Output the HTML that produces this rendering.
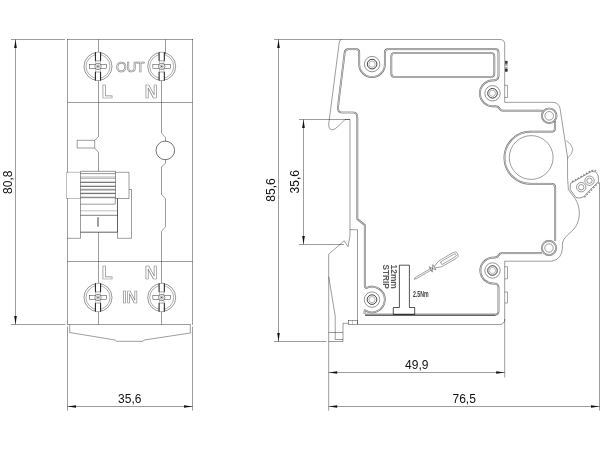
<!DOCTYPE html>
<html><head><meta charset="utf-8"><title>Dimension drawing</title>
<style>
html,body{margin:0;padding:0;background:#fff;}
svg{display:block;will-change:transform;font-family:"Liberation Sans",sans-serif;}
</style></head>
<body>
<svg width="600" height="450" viewBox="0 0 600 450">
<rect width="600" height="450" fill="#fff"/>
<line x1="11" y1="39.5" x2="65" y2="39.5" stroke="#000" stroke-width="0.388"/>
<line x1="11" y1="324.5" x2="65.5" y2="324.5" stroke="#000" stroke-width="0.388"/>
<line x1="15.5" y1="39.5" x2="15.5" y2="324.5" stroke="#000" stroke-width="0.388"/>
<polygon points="15.5,39.5 14.2,48.0 16.8,48.0" fill="#111"/>
<polygon points="15.5,324.5 14.2,316.0 16.8,316.0" fill="#111"/>
<text x="11.7" y="182.2" font-size="12" text-anchor="middle" fill="#111" transform="rotate(-90 11.7 182.2)" >80,8</text>
<line x1="67.5" y1="39" x2="67.5" y2="172.5" stroke="#000" stroke-width="0.388"/>
<line x1="67.5" y1="198.3" x2="67.5" y2="325" stroke="#000" stroke-width="0.388"/>
<line x1="192.5" y1="39" x2="192.5" y2="325" stroke="#000" stroke-width="0.388"/>
<line x1="67" y1="39.5" x2="193" y2="39.5" stroke="#000" stroke-width="0.388"/>
<line x1="67.5" y1="102.5" x2="192.5" y2="102.5" stroke="#000" stroke-width="0.388"/>
<line x1="67.5" y1="261.5" x2="192.5" y2="261.5" stroke="#000" stroke-width="0.388"/>
<line x1="67.5" y1="324.5" x2="190.5" y2="324.5" stroke="#000" stroke-width="0.388"/>
<path d="M98.5,39.5 V136.7 L94.7,140.3 H77.2 V148 H94.7 L98.5,152.5 V171.2" stroke="#000" stroke-width="0.388" fill="none" />
<line x1="94.7" y1="140.3" x2="94.7" y2="148" stroke="#000" stroke-width="0.388"/>
<line x1="98.5" y1="232.2" x2="98.5" y2="324.5" stroke="#000" stroke-width="0.388"/>
<line x1="165.5" y1="39.5" x2="165.5" y2="54" stroke="#000" stroke-width="0.388"/>
<path d="M161.5,78 V133 L165.5,137.5 V141.3" stroke="#000" stroke-width="0.388" fill="none" />
<circle cx="165.3" cy="150.4" r="9.3" stroke="#000" stroke-width="0.55" fill="none"/>
<path d="M165.5,159.6 V163.3 L161.5,166.7 V194.7 L165.5,198.7 V226.7 L161.5,231.3 V324.5" stroke="#000" stroke-width="0.388" fill="none" />
<line x1="80.5" y1="171.3" x2="115.5" y2="171.3" stroke="#000" stroke-width="0.42"/>
<line x1="80.5" y1="173.6" x2="115.5" y2="173.6" stroke="#000" stroke-width="0.42"/>
<line x1="80.5" y1="177.0" x2="115.5" y2="177.0" stroke="#000" stroke-width="0.3"/>
<line x1="80.5" y1="178.4" x2="115.5" y2="178.4" stroke="#000" stroke-width="0.3"/>
<line x1="80.5" y1="182.4" x2="115.5" y2="182.4" stroke="#000" stroke-width="0.6"/>
<line x1="80.5" y1="186.4" x2="115.5" y2="186.4" stroke="#000" stroke-width="0.6"/>
<line x1="80.5" y1="189.9" x2="115.5" y2="189.9" stroke="#000" stroke-width="0.6"/>
<line x1="80.5" y1="193.6" x2="115.5" y2="193.6" stroke="#000" stroke-width="0.6"/>
<line x1="80.5" y1="197.7" x2="115.5" y2="197.7" stroke="#000" stroke-width="0.55"/>
<line x1="80.5" y1="181.3" x2="115.5" y2="181.3" stroke="#000" stroke-width="0.13"/>
<line x1="80.5" y1="185.3" x2="115.5" y2="185.3" stroke="#000" stroke-width="0.13"/>
<line x1="80.5" y1="188.8" x2="115.5" y2="188.8" stroke="#000" stroke-width="0.13"/>
<line x1="80.5" y1="192.5" x2="115.5" y2="192.5" stroke="#000" stroke-width="0.13"/>
<line x1="80.5" y1="196.5" x2="115.5" y2="196.5" stroke="#000" stroke-width="0.13"/>
<line x1="80.5" y1="171.3" x2="80.5" y2="238.3" stroke="#000" stroke-width="0.388"/>
<line x1="115.5" y1="171.3" x2="115.5" y2="198.5" stroke="#000" stroke-width="0.388"/>
<path d="M80.5,172.3 H66.5 V198.5 H80.5" stroke="#000" stroke-width="0.259" fill="none" />
<path d="M115.5,172.3 H129 V198.5 H115.5" stroke="#000" stroke-width="0.388" fill="none" />
<path d="M129,189.5 H131.5 V238.3 H117.5" stroke="#000" stroke-width="0.388" fill="none" />
<line x1="117.5" y1="198.3" x2="117.5" y2="232.2" stroke="#000" stroke-width="0.626"/>
<line x1="117.5" y1="232.2" x2="117.5" y2="238.3" stroke="#000" stroke-width="0.388"/>
<line x1="80.5" y1="232.2" x2="117.5" y2="232.2" stroke="#000" stroke-width="0.626"/>
<path d="M115.3,198.3 V204.2 H80.5" stroke="#000" stroke-width="0.388" fill="none" />
<line x1="80.5" y1="210.8" x2="117.5" y2="210.8" stroke="#000" stroke-width="0.259"/>
<line x1="80.5" y1="215.3" x2="117.5" y2="215.3" stroke="#000" stroke-width="0.501"/>
<line x1="98" y1="217.3" x2="98" y2="226.7" stroke="rgb(125,125,125)" stroke-width="1.5"/>
<line x1="67.5" y1="238.3" x2="80.5" y2="238.3" stroke="#000" stroke-width="0.388"/>
<circle cx="98" cy="66.4" r="14.0" stroke="#000" stroke-width="0.413" fill="none"/>
<circle cx="98" cy="66.4" r="12.0" stroke="#000" stroke-width="0.317" fill="none"/>
<rect x="95.4" y="52.00000000000001" width="5.2" height="28.8" fill="#fff" stroke="none"/>
<rect x="89.2" y="64.2" width="17.6" height="4.5" fill="#fff" stroke="#000" stroke-width="0.4"/>
<line x1="95.4" y1="60.800000000000004" x2="96.0" y2="64.10000000000001" stroke="#000" stroke-width="0.277"/>
<line x1="100.6" y1="60.800000000000004" x2="100.0" y2="64.10000000000001" stroke="#000" stroke-width="0.277"/>
<line x1="95.4" y1="52.2" x2="95.4" y2="60.800000000000004" stroke="#000" stroke-width="0.919"/>
<line x1="100.6" y1="52.2" x2="100.6" y2="60.800000000000004" stroke="#000" stroke-width="0.919"/>
<line x1="95.4" y1="60.800000000000004" x2="100.6" y2="60.800000000000004" stroke="#000" stroke-width="0.367"/>
<line x1="95.4" y1="52.300000000000004" x2="100.6" y2="52.300000000000004" stroke="#000" stroke-width="0.317"/>
<line x1="95.4" y1="72.0" x2="96.0" y2="68.7" stroke="#000" stroke-width="0.277"/>
<line x1="100.6" y1="72.0" x2="100.0" y2="68.7" stroke="#000" stroke-width="0.277"/>
<line x1="95.4" y1="80.60000000000001" x2="95.4" y2="72.0" stroke="#000" stroke-width="0.919"/>
<line x1="100.6" y1="80.60000000000001" x2="100.6" y2="72.0" stroke="#000" stroke-width="0.919"/>
<line x1="95.4" y1="72.0" x2="100.6" y2="72.0" stroke="#000" stroke-width="0.367"/>
<line x1="95.4" y1="80.5" x2="100.6" y2="80.5" stroke="#000" stroke-width="0.317"/>
<circle cx="98" cy="66.4" r="3.2" fill="#fff" stroke="#000" stroke-width="0.45"/>
<circle cx="98" cy="66.4" r="1.6" fill="none" stroke="#000" stroke-width="0.3"/>
<circle cx="98" cy="66.4" r="0.7" fill="#333"/>
<circle cx="161.7" cy="66.4" r="14.0" stroke="#000" stroke-width="0.413" fill="none"/>
<circle cx="161.7" cy="66.4" r="12.0" stroke="#000" stroke-width="0.317" fill="none"/>
<rect x="159.1" y="52.00000000000001" width="5.2" height="28.8" fill="#fff" stroke="none"/>
<rect x="152.89999999999998" y="64.2" width="17.6" height="4.5" fill="#fff" stroke="#000" stroke-width="0.4"/>
<line x1="159.1" y1="60.800000000000004" x2="159.7" y2="64.10000000000001" stroke="#000" stroke-width="0.277"/>
<line x1="164.29999999999998" y1="60.800000000000004" x2="163.7" y2="64.10000000000001" stroke="#000" stroke-width="0.277"/>
<line x1="159.1" y1="52.2" x2="159.1" y2="60.800000000000004" stroke="#000" stroke-width="0.919"/>
<line x1="164.29999999999998" y1="52.2" x2="164.29999999999998" y2="60.800000000000004" stroke="#000" stroke-width="0.919"/>
<line x1="159.1" y1="60.800000000000004" x2="164.29999999999998" y2="60.800000000000004" stroke="#000" stroke-width="0.367"/>
<line x1="159.1" y1="52.300000000000004" x2="164.29999999999998" y2="52.300000000000004" stroke="#000" stroke-width="0.317"/>
<line x1="159.1" y1="72.0" x2="159.7" y2="68.7" stroke="#000" stroke-width="0.277"/>
<line x1="164.29999999999998" y1="72.0" x2="163.7" y2="68.7" stroke="#000" stroke-width="0.277"/>
<line x1="159.1" y1="80.60000000000001" x2="159.1" y2="72.0" stroke="#000" stroke-width="0.919"/>
<line x1="164.29999999999998" y1="80.60000000000001" x2="164.29999999999998" y2="72.0" stroke="#000" stroke-width="0.919"/>
<line x1="159.1" y1="72.0" x2="164.29999999999998" y2="72.0" stroke="#000" stroke-width="0.367"/>
<line x1="159.1" y1="80.5" x2="164.29999999999998" y2="80.5" stroke="#000" stroke-width="0.317"/>
<circle cx="161.7" cy="66.4" r="3.2" fill="#fff" stroke="#000" stroke-width="0.45"/>
<circle cx="161.7" cy="66.4" r="1.6" fill="none" stroke="#000" stroke-width="0.3"/>
<circle cx="161.7" cy="66.4" r="0.7" fill="#333"/>
<circle cx="98" cy="297.5" r="14.0" stroke="#000" stroke-width="0.413" fill="none"/>
<circle cx="98" cy="297.5" r="12.0" stroke="#000" stroke-width="0.317" fill="none"/>
<rect x="95.4" y="283.1" width="5.2" height="28.8" fill="#fff" stroke="none"/>
<rect x="89.2" y="295.3" width="17.6" height="4.5" fill="#fff" stroke="#000" stroke-width="0.4"/>
<line x1="95.4" y1="291.9" x2="96.0" y2="295.2" stroke="#000" stroke-width="0.277"/>
<line x1="100.6" y1="291.9" x2="100.0" y2="295.2" stroke="#000" stroke-width="0.277"/>
<line x1="95.4" y1="283.3" x2="95.4" y2="291.9" stroke="#000" stroke-width="0.919"/>
<line x1="100.6" y1="283.3" x2="100.6" y2="291.9" stroke="#000" stroke-width="0.919"/>
<line x1="95.4" y1="291.9" x2="100.6" y2="291.9" stroke="#000" stroke-width="0.367"/>
<line x1="95.4" y1="283.4" x2="100.6" y2="283.4" stroke="#000" stroke-width="0.317"/>
<line x1="95.4" y1="303.1" x2="96.0" y2="299.8" stroke="#000" stroke-width="0.277"/>
<line x1="100.6" y1="303.1" x2="100.0" y2="299.8" stroke="#000" stroke-width="0.277"/>
<line x1="95.4" y1="311.7" x2="95.4" y2="303.1" stroke="#000" stroke-width="0.919"/>
<line x1="100.6" y1="311.7" x2="100.6" y2="303.1" stroke="#000" stroke-width="0.919"/>
<line x1="95.4" y1="303.1" x2="100.6" y2="303.1" stroke="#000" stroke-width="0.367"/>
<line x1="95.4" y1="311.6" x2="100.6" y2="311.6" stroke="#000" stroke-width="0.317"/>
<circle cx="98" cy="297.5" r="3.2" fill="#fff" stroke="#000" stroke-width="0.45"/>
<circle cx="98" cy="297.5" r="1.6" fill="none" stroke="#000" stroke-width="0.3"/>
<circle cx="98" cy="297.5" r="0.7" fill="#333"/>
<circle cx="161.7" cy="297.5" r="14.0" stroke="#000" stroke-width="0.413" fill="none"/>
<circle cx="161.7" cy="297.5" r="12.0" stroke="#000" stroke-width="0.317" fill="none"/>
<rect x="159.1" y="283.1" width="5.2" height="28.8" fill="#fff" stroke="none"/>
<rect x="152.89999999999998" y="295.3" width="17.6" height="4.5" fill="#fff" stroke="#000" stroke-width="0.4"/>
<line x1="159.1" y1="291.9" x2="159.7" y2="295.2" stroke="#000" stroke-width="0.277"/>
<line x1="164.29999999999998" y1="291.9" x2="163.7" y2="295.2" stroke="#000" stroke-width="0.277"/>
<line x1="159.1" y1="283.3" x2="159.1" y2="291.9" stroke="#000" stroke-width="0.919"/>
<line x1="164.29999999999998" y1="283.3" x2="164.29999999999998" y2="291.9" stroke="#000" stroke-width="0.919"/>
<line x1="159.1" y1="291.9" x2="164.29999999999998" y2="291.9" stroke="#000" stroke-width="0.367"/>
<line x1="159.1" y1="283.4" x2="164.29999999999998" y2="283.4" stroke="#000" stroke-width="0.317"/>
<line x1="159.1" y1="303.1" x2="159.7" y2="299.8" stroke="#000" stroke-width="0.277"/>
<line x1="164.29999999999998" y1="303.1" x2="163.7" y2="299.8" stroke="#000" stroke-width="0.277"/>
<line x1="159.1" y1="311.7" x2="159.1" y2="303.1" stroke="#000" stroke-width="0.919"/>
<line x1="164.29999999999998" y1="311.7" x2="164.29999999999998" y2="303.1" stroke="#000" stroke-width="0.919"/>
<line x1="159.1" y1="303.1" x2="164.29999999999998" y2="303.1" stroke="#000" stroke-width="0.367"/>
<line x1="159.1" y1="311.6" x2="164.29999999999998" y2="311.6" stroke="#000" stroke-width="0.317"/>
<circle cx="161.7" cy="297.5" r="3.2" fill="#fff" stroke="#000" stroke-width="0.45"/>
<circle cx="161.7" cy="297.5" r="1.6" fill="none" stroke="#000" stroke-width="0.3"/>
<circle cx="161.7" cy="297.5" r="0.7" fill="#333"/>
<text x="115.9" y="71.6" font-size="15" fill="#fff" stroke="#858585" stroke-width="0.7" textLength="28.8" lengthAdjust="spacingAndGlyphs">OUT</text>
<text x="101.8" y="98" font-size="17.8" text-anchor="start" font-weight="bold" fill="#fff" stroke="#858585" stroke-width="0.65">L</text>
<text x="144.8" y="98" font-size="17.8" text-anchor="start" font-weight="bold" fill="#fff" stroke="#858585" stroke-width="0.65">N</text>
<text x="101.8" y="278.6" font-size="17.8" text-anchor="start" font-weight="bold" fill="#fff" stroke="#858585" stroke-width="0.65">L</text>
<text x="144.8" y="278.6" font-size="17.8" text-anchor="start" font-weight="bold" fill="#fff" stroke="#858585" stroke-width="0.65">N</text>
<text x="122.2" y="303.3" font-size="15.8" text-anchor="start" font-weight="bold" fill="#fff" stroke="#858585" stroke-width="0.65">IN</text>
<path d="M69.7,324.5 V332.5 L115,340 L116.7,341.3 H143 L144.2,340 L190.3,333 V324.5" stroke="#000" stroke-width="0.388" fill="none" />
<line x1="67.5" y1="326.5" x2="67.5" y2="410.5" stroke="#000" stroke-width="0.388"/>
<line x1="192.5" y1="326.5" x2="192.5" y2="410.5" stroke="#000" stroke-width="0.388"/>
<line x1="67.5" y1="406.5" x2="192.5" y2="406.5" stroke="#000" stroke-width="0.388"/>
<polygon points="67.5,406.5 76.0,405.2 76.0,407.8" fill="#111"/>
<polygon points="192.5,406.5 184.0,405.2 184.0,407.8" fill="#111"/>
<text x="129.8" y="402.5" font-size="12" text-anchor="middle" fill="#111" >35,6</text>
<line x1="274" y1="39.5" x2="340" y2="39.5" stroke="#000" stroke-width="0.388"/>
<line x1="274" y1="341.5" x2="326.5" y2="341.5" stroke="#000" stroke-width="0.388"/>
<line x1="278.5" y1="39.5" x2="278.5" y2="341.5" stroke="#000" stroke-width="0.388"/>
<polygon points="278.5,39.5 277.2,48.0 279.8,48.0" fill="#111"/>
<polygon points="278.5,341.5 277.2,333.0 279.8,333.0" fill="#111"/>
<text x="274.7" y="190" font-size="12" text-anchor="middle" fill="#111" transform="rotate(-90 274.7 190)" >85,6</text>
<line x1="299" y1="119.5" x2="350" y2="119.5" stroke="#000" stroke-width="0.388"/>
<line x1="299" y1="244.5" x2="344" y2="244.5" stroke="#000" stroke-width="0.388"/>
<line x1="303.5" y1="119.5" x2="303.5" y2="244.5" stroke="#000" stroke-width="0.388"/>
<polygon points="303.5,119.5 302.2,128.0 304.8,128.0" fill="#111"/>
<polygon points="303.5,244.5 302.2,236.0 304.8,236.0" fill="#111"/>
<text x="299" y="181.7" font-size="12" text-anchor="middle" fill="#111" transform="rotate(-90 299 181.7)" >35,6</text>
<path d="M340,39.5 H500 Q504.7,39.5 504.7,44.5 V102.3 H552.5 Q558.5,102.3 560,108.3 L567.5,157 L567.6,178.4 L568.4,189.6 L575.4,199 C581,208 581,222 573,230 C568,235 563,238 562.4,244 V248 Q562,259 552,261.2 H504.7 V319 Q504.7,324.5 499.5,324.5 H357.5 V229.7 H350" stroke="#000" stroke-width="0.388" fill="none" />
<path d="M341.5,39.5 Q339.7,39.7 339.3,42 L328.7,124.2 Q328.5,130.5 333.3,129.7 Q336,129 345,119.5 H350 V235.8 L348,246.7 L344.2,240.8 L328.7,254.2 V410.8" stroke="#000" stroke-width="0.388" fill="none" />
<path d="M328.7,276.7 L335.2,316 V332.5" stroke="#000" stroke-width="0.388" fill="none" />
<path d="M328.7,332.5 H343 M335.2,332.5 V339.5 H343 M328.7,341.5 H343 V323.3 H348.5" stroke="#000" stroke-width="0.388" fill="none" />
<rect x="348.5" y="320.3" width="9" height="4.2" fill="none" stroke="#000" stroke-width="0.38"/>
<line x1="352.5" y1="320.3" x2="352.5" y2="324.5" stroke="#000" stroke-width="0.207"/>
<path d="M504.7,85.3 H507.5 V97.5 H504.7" stroke="#000" stroke-width="0.349" fill="none" />
<path d="M504.7,266.7 H507.5 V278.8 H504.7" stroke="#000" stroke-width="0.349" fill="none" />
<path d="M504.7,292 H507.5 V303 H504.7" stroke="#000" stroke-width="0.349" fill="none" />
<rect x="505.1" y="60.9" width="2.4" height="10.7" fill="#9a9a9a"/>
<rect x="505.1" y="60.9" width="2.4" height="2.7" fill="#3a3a3a"/>
<rect x="505.1" y="68.9" width="2.4" height="2.7" fill="#2a2a2a"/>
<rect x="505.3" y="65.8" width="2.0" height="1.3" fill="#f4f4f4"/>
<path d="M338.8,100 L344.7,52.5 Q345.2,49.2 348.5,49.2 H355.8 Q359.2,49.2 359.2,52.5 V64.2 A12.85,12.85 0 0 0 384.9,64.2 V52.5 Q384.9,49.2 388.2,49.2 H495.5 Q498.5,49.2 498.5,52.2 V76 Q498.5,79.5 494.5,80.4 A13,13 0 1 0 494.5,106.2 Q498.5,106.5 499.5,108.5 Q500.5,110.7 503,110.7 H542.5" stroke="#000" stroke-opacity="0.48" stroke-width="1.7" fill="none" stroke-linejoin="round"/>
<path d="M338.8,100 L344.7,52.5 Q345.2,49.2 348.5,49.2 H355.8 Q359.2,49.2 359.2,52.5 V64.2 A12.85,12.85 0 0 0 384.9,64.2 V52.5 Q384.9,49.2 388.2,49.2 H495.5 Q498.5,49.2 498.5,52.2 V76 Q498.5,79.5 494.5,80.4 A13,13 0 1 0 494.5,106.2 Q498.5,106.5 499.5,108.5 Q500.5,110.7 503,110.7 H542.5" stroke="#fff" stroke-width="0.85" fill="none" stroke-linejoin="round"/>
<path d="M338.8,100 L344.7,52.5 Q345.2,49.2 348.5,49.2 H355.8 Q359.2,49.2 359.2,52.5 V64.2 A12.85,12.85 0 0 0 384.9,64.2 V52.5 Q384.9,49.2 388.2,49.2 H495.5 Q498.5,49.2 498.5,52.2 V76 Q498.5,79.5 494.5,80.4 A13,13 0 1 0 494.5,106.2 Q498.5,106.5 499.5,108.5 Q500.5,110.7 503,110.7 H542.5" stroke="#000" stroke-opacity="0.17" stroke-width="2.1" fill="none" stroke-linejoin="round"/>
<path d="M338.8,100 L338,107.5 Q337.8,112.5 341.5,112.5 H353 Q357.3,112.5 357.3,117.5 V219 L364.8,225 V285.5 Q364.9,287.8 366.5,287.9 A12.85,12.85 0 1 1 364.8,310.2 L364.4,313.6" stroke="#000" stroke-opacity="0.48" stroke-width="1.7" fill="none" stroke-linejoin="round"/>
<path d="M338.8,100 L338,107.5 Q337.8,112.5 341.5,112.5 H353 Q357.3,112.5 357.3,117.5 V219 L364.8,225 V285.5 Q364.9,287.8 366.5,287.9 A12.85,12.85 0 1 1 364.8,310.2 L364.4,313.6" stroke="#fff" stroke-width="0.85" fill="none" stroke-linejoin="round"/>
<path d="M338.8,100 L338,107.5 Q337.8,112.5 341.5,112.5 H353 Q357.3,112.5 357.3,117.5 V219 L364.8,225 V285.5 Q364.9,287.8 366.5,287.9 A12.85,12.85 0 1 1 364.8,310.2 L364.4,313.6" stroke="#000" stroke-opacity="0.17" stroke-width="2.1" fill="none" stroke-linejoin="round"/>
<path d="M555,121 V128 Q555,131.7 551.5,131.7 H530.5 A26.05,26.05 0 0 0 530.5,183.8 H551.5 Q555.2,183.8 555.2,187.5 V241" stroke="#000" stroke-opacity="0.48" stroke-width="1.7" fill="none" stroke-linejoin="round"/>
<path d="M555,121 V128 Q555,131.7 551.5,131.7 H530.5 A26.05,26.05 0 0 0 530.5,183.8 H551.5 Q555.2,183.8 555.2,187.5 V241" stroke="#fff" stroke-width="0.85" fill="none" stroke-linejoin="round"/>
<path d="M555,121 V128 Q555,131.7 551.5,131.7 H530.5 A26.05,26.05 0 0 0 530.5,183.8 H551.5 Q555.2,183.8 555.2,187.5 V241" stroke="#000" stroke-opacity="0.17" stroke-width="2.1" fill="none" stroke-linejoin="round"/>
<path d="M542,253.2 H501.5 Q499.5,253.5 498.5,255.5 Q497.5,257.3 494.5,257.6 A13,13 0 1 0 494.5,283.5 Q498.5,284 498.5,287.5 V311 Q498.5,314.6 495,314.6 H365" stroke="#000" stroke-opacity="0.48" stroke-width="1.7" fill="none" stroke-linejoin="round"/>
<path d="M542,253.2 H501.5 Q499.5,253.5 498.5,255.5 Q497.5,257.3 494.5,257.6 A13,13 0 1 0 494.5,283.5 Q498.5,284 498.5,287.5 V311 Q498.5,314.6 495,314.6 H365" stroke="#fff" stroke-width="0.85" fill="none" stroke-linejoin="round"/>
<path d="M542,253.2 H501.5 Q499.5,253.5 498.5,255.5 Q497.5,257.3 494.5,257.6 A13,13 0 1 0 494.5,283.5 Q498.5,284 498.5,287.5 V311 Q498.5,314.6 495,314.6 H365" stroke="#000" stroke-opacity="0.17" stroke-width="2.1" fill="none" stroke-linejoin="round"/>
<line x1="365" y1="315.2" x2="495.5" y2="315.2" stroke="#000" stroke-width="0.6"/>
<rect x="391.3" y="53" width="103" height="24" rx="3.2" fill="none" stroke="#000" stroke-opacity="0.48" stroke-width="1.7"/>
<rect x="391.3" y="53" width="103" height="24" rx="3.2" fill="none" stroke="#fff" stroke-width="0.85"/>
<rect x="391.3" y="53" width="103" height="24" rx="3.2" fill="none" stroke="#000" stroke-opacity="0.17" stroke-width="2.1"/>
<circle cx="372.1" cy="64.1" r="7.7" fill="#fff" stroke="#000" stroke-width="0.42"/>
<circle cx="372.1" cy="64.1" r="4.8" fill="none" stroke="#000" stroke-width="0.75"/>
<circle cx="372.1" cy="64.1" r="3.1" fill="none" stroke="#000" stroke-width="0.3"/>
<circle cx="492.5" cy="93.3" r="7.7" fill="#fff" stroke="#000" stroke-width="0.42"/>
<circle cx="492.5" cy="93.3" r="4.8" fill="none" stroke="#000" stroke-width="0.75"/>
<circle cx="492.5" cy="93.3" r="3.1" fill="none" stroke="#000" stroke-width="0.3"/>
<circle cx="492.5" cy="270.5" r="7.7" fill="#fff" stroke="#000" stroke-width="0.42"/>
<circle cx="492.5" cy="270.5" r="4.8" fill="none" stroke="#000" stroke-width="0.75"/>
<circle cx="492.5" cy="270.5" r="3.1" fill="none" stroke="#000" stroke-width="0.3"/>
<circle cx="372" cy="299.6" r="7.7" fill="#fff" stroke="#000" stroke-width="0.42"/>
<circle cx="372" cy="299.6" r="4.8" fill="none" stroke="#000" stroke-width="0.75"/>
<circle cx="372" cy="299.6" r="3.1" fill="none" stroke="#000" stroke-width="0.3"/>
<circle cx="549.2" cy="115.8" r="7.3" fill="#fff" stroke="#000" stroke-opacity="0.48" stroke-width="1.7"/><circle cx="549.2" cy="115.8" r="7.3" fill="none" stroke="#fff" stroke-width="0.85"/><circle cx="549.2" cy="115.8" r="7.3" fill="none" stroke="#000" stroke-opacity="0.17" stroke-width="2.1"/>
<circle cx="549.2" cy="115.8" r="4.3" stroke="#000" stroke-width="0.388" fill="none"/>
<circle cx="549" cy="248" r="7.1" fill="#fff" stroke="#000" stroke-opacity="0.48" stroke-width="1.7"/><circle cx="549" cy="248" r="7.1" fill="none" stroke="#fff" stroke-width="0.85"/><circle cx="549" cy="248" r="7.1" fill="none" stroke="#000" stroke-opacity="0.17" stroke-width="2.1"/>
<circle cx="549" cy="248" r="4.2" stroke="#000" stroke-width="0.388" fill="none"/>
<circle cx="531.2" cy="157.5" r="21.9" stroke="#000" stroke-width="0.388" fill="none"/>
<path d="M566.2,140.6 Q578.5,148.5 567.7,158.2" stroke="#000" stroke-width="0.349" fill="none" />
<path d="M570.4,183.6 L591.2,171.6 Q596.3,170.3 598.2,176 L598.5,181.3 L583.6,196.8 Q580,199 576,197.6 L570.2,189.6 Z" fill="#fff" stroke="#000" stroke-width="0.42"/>
<path d="M572.0,181.7 L591.0,170.7 Q594.5,169.6 597,171.6" fill="none" stroke="#000" stroke-opacity="0.5" stroke-width="1.1" stroke-dasharray="1.7 1.5"/>
<path d="M598.9,182.4 L584.2,197.6" fill="none" stroke="#000" stroke-opacity="0.5" stroke-width="1.1" stroke-dasharray="1.7 1.5"/>
<circle cx="581.2" cy="187.2" r="4.7" stroke="#000" stroke-width="0.388" fill="none"/>
<circle cx="581.2" cy="187.2" r="2.7" stroke="#000" stroke-width="0.388" fill="none"/>
<circle cx="589.5" cy="180.7" r="4.7" stroke="#000" stroke-width="0.388" fill="none"/>
<circle cx="589.5" cy="180.7" r="2.7" stroke="#000" stroke-width="0.388" fill="none"/>
<line x1="599.5" y1="182.5" x2="599.5" y2="410.5" stroke="#000" stroke-width="0.388"/>
<line x1="504.7" y1="319" x2="504.7" y2="377.5" stroke="#000" stroke-width="0.388"/>
<path d="M399.4,307.5 V265.2 H409.4 V307.5 H414.7 V314.5 H393.3 V307.5 Z" stroke="#000" stroke-width="0.678" fill="none" />
<text transform="translate(391,264.6) rotate(90)" font-size="8.4" font-weight="bold" fill="#5a5a5a" textLength="24.2" lengthAdjust="spacingAndGlyphs">12mm</text>
<text transform="translate(382.7,264.6) rotate(90)" font-size="8.4" font-weight="bold" fill="#5a5a5a" textLength="24.2" lengthAdjust="spacingAndGlyphs">STRIP</text>
<text x="413" y="296.8" font-size="8.5" font-weight="bold" fill="#3a3a3a" textLength="15.5" lengthAdjust="spacingAndGlyphs">2.5Nm</text>
<g transform="translate(414,279.2) rotate(-30.3)" fill="none" stroke="#000" stroke-width="0.33"><path d="M0,0 L2.5,-0.8 H20.5 M0,0 L2.5,0.8 H20.5" /><path d="M19.3,-3.1 L23.6,3.1 V-3.1 L19.3,3.1 Z"/><path d="M23.6,-0.7 L30.5,-3.3 H47.3 Q50.6,-3.3 50.6,0 Q50.6,3.3 47.3,3.3 H30.5 L23.6,0.7"/><path d="M31.5,-1.5 H47 Q48.7,-1.5 48.7,0 Q48.7,1.5 47,1.5 H31.5 Z"/></g>
<line x1="328.7" y1="372.5" x2="504.7" y2="372.5" stroke="#000" stroke-width="0.388"/>
<polygon points="328.7,372.5 337.2,371.2 337.2,373.8" fill="#111"/>
<polygon points="504.7,372.5 496.2,371.2 496.2,373.8" fill="#111"/>
<line x1="328.7" y1="406.5" x2="599.5" y2="406.5" stroke="#000" stroke-width="0.388"/>
<polygon points="328.7,406.5 337.2,405.2 337.2,407.8" fill="#111"/>
<polygon points="599.5,406.5 591.0,405.2 591.0,407.8" fill="#111"/>
<text x="416.8" y="368.5" font-size="12" text-anchor="middle" fill="#111" >49,9</text>
<text x="464.2" y="402.5" font-size="12" text-anchor="middle" fill="#111" >76,5</text>
</svg>
</body></html>
